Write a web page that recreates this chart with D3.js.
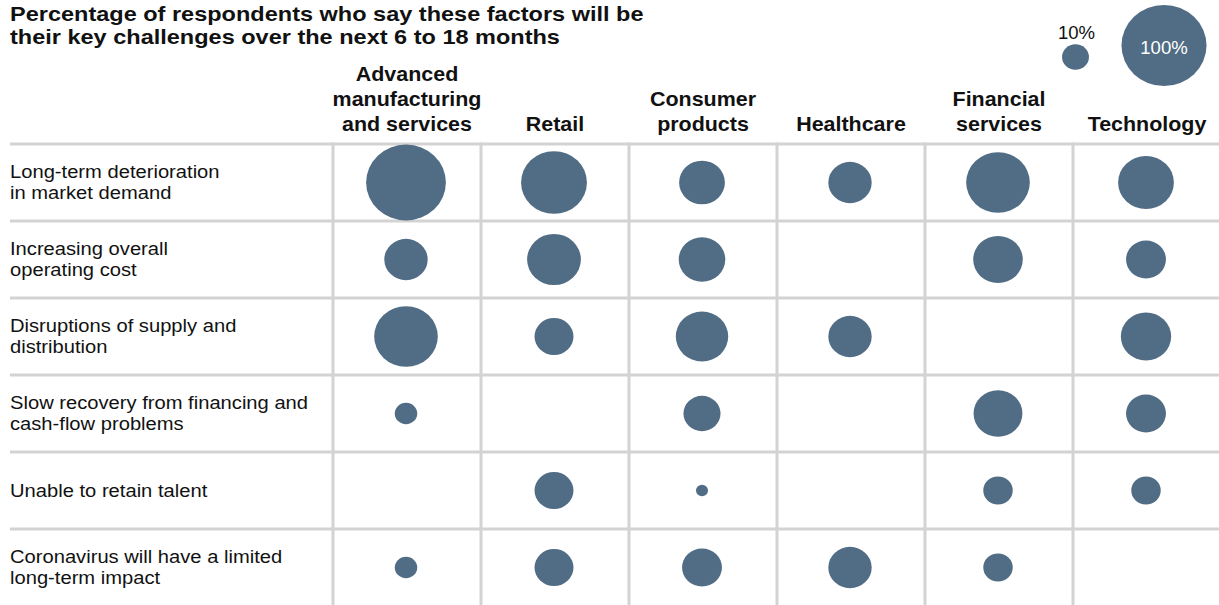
<!DOCTYPE html>
<html>
<head>
<meta charset="utf-8">
<script src="https://cdn.jsdelivr.net/npm/d3@7"></script>
<style>
  html, body { margin: 0; padding: 0; background: #ffffff; }
  svg { display: block; font-family: "Liberation Sans", Arial, Helvetica, sans-serif; }
</style>
</head>
<body>
<svg id="chart" width="1219" height="605"></svg>
<script>
// ---------- data ----------
const titleLines = [
  "Percentage of respondents who say these factors will be",
  "their key challenges over the next 6 to 18 months"
];
const industries = ["Advanced manufacturing and services", "Retail", "Consumer products", "Healthcare", "Financial services", "Technology"];
const industryLabels = [["Advanced", "manufacturing", "and services"], ["Retail"], ["Consumer", "products"], ["Healthcare"], ["Financial", "services"], ["Technology"]];
const factors = [
  "Long-term deterioration in market demand",
  "Increasing overall operating cost",
  "Disruptions of supply and distribution",
  "Slow recovery from financing and cash-flow problems",
  "Unable to retain talent",
  "Coronavirus will have a limited long-term impact"
];
const factorLabels = [
  ["Long-term deterioration", "in market demand"],
  ["Increasing overall", "operating cost"],
  ["Disruptions of supply and", "distribution"],
  ["Slow recovery from financing and", "cash-flow problems"],
  ["Unable to retain talent"],
  ["Coronavirus will have a limited", "long-term impact"]
];
// percentage of respondents per industry (order of industries); null = not shown
const longTermDemand   = [88, 60, 29, 26, 56, 43];
const operatingCost    = [26, 40, 30, null, 34, 22];
const supplyDisruption = [56, 21, 38, 26, null, 35];
const slowRecovery     = [7, null, 19, null, 33, 22];
const retainTalent     = [null, 21, 2, null, 12, 12];
const limitedImpact    = [7, 21, 22, 26, 12, null];
const seriesByFactor = [longTermDemand, operatingCost, supplyDisruption, slowRecovery, retainTalent, limitedImpact];
const legendValues = [10, 100];
const legendLabels = ["10%", "100%"];

// ---------- build table ----------
const cells = [];
factors.forEach((f, i) => {
  seriesByFactor[i].forEach((v, j) => {
    if (v !== null) cells.push({ factor: f, industry: industries[j], value: v });
  });
});

// ---------- drawing ----------
const W = 1219, H = 605;
const svg = d3.select("#chart");
const BUBBLE = "#516c85";
const GRID = "#d3d3d3";
const ASPECT = 1.05; // bubbles are slightly wider than tall

const x = d3.scaleBand().domain(industries).range([333, 1221]).padding(0);
const y = d3.scaleBand().domain(factors).range([144, 606]).padding(0);
const r = d3.scaleSqrt().domain([0, 100]).range([0, 40.5]);

function stretched(sel, tx, ty, sx) {
  return sel.attr("transform", `translate(${tx},${ty}) scale(${sx},1)`);
}

// title
const title = svg.append("g");
titleLines.forEach((t, i) => {
  stretched(title.append("text"), 10, 20.5 + i * 23, 1.12)
    .attr("font-size", 21).attr("font-weight", "bold").attr("fill", "#111")
    .text(t);
});

// grid
svg.append("g").selectAll("line.h").data(factors).join("line")
  .attr("x1", 10).attr("x2", W)
  .attr("y1", d => y(d)).attr("y2", d => y(d))
  .attr("stroke", GRID).attr("stroke-width", 3);
svg.append("g").selectAll("line.v").data(industries).join("line")
  .attr("x1", d => x(d)).attr("x2", d => x(d))
  .attr("y1", y(factors[0]) - 1.5).attr("y2", H)
  .attr("stroke", GRID).attr("stroke-width", 3);

// column headers
const hdr = svg.append("g");
industries.forEach((ind, j) => {
  const lines = industryLabels[j];
  lines.forEach((ln, k) => {
    const base = 131 - (lines.length - 1 - k) * 25;
    stretched(hdr.append("text"), x(ind) + x.bandwidth() / 2, base, 1.1)
      .attr("text-anchor", "middle").attr("font-size", 19.5).attr("font-weight", "bold").attr("fill", "#111")
      .text(ln);
  });
});

// row labels
const rl = svg.append("g");
factors.forEach((f, i) => {
  const lines = factorLabels[i];
  const cy = y(f) + y.bandwidth() / 2;
  lines.forEach((ln, k) => {
    const base = cy + 6 + (k - (lines.length - 1) / 2) * 21;
    stretched(rl.append("text"), 10, base, 1.09)
      .attr("font-size", 18.5).attr("fill", "#111")
      .text(ln);
  });
});

// bubbles
svg.append("g").selectAll("ellipse").data(cells).join("ellipse")
  .attr("cx", d => x(d.industry) + x.bandwidth() / 2 - 1)
  .attr("cy", d => y(d.factor) + y.bandwidth() / 2)
  .attr("rx", d => r(d.value) * ASPECT)
  .attr("ry", d => r(d.value))
  .attr("fill", BUBBLE);

// legend
const lg = svg.append("g");
const legendPos = [{ cx: 1075.5, cy: 57 }, { cx: 1164, cy: 45.5 }];
legendValues.forEach((v, i) => {
  lg.append("ellipse")
    .attr("cx", legendPos[i].cx).attr("cy", legendPos[i].cy)
    .attr("rx", r(v) * ASPECT).attr("ry", r(v))
    .attr("fill", BUBBLE);
});
stretched(lg.append("text"), 1076.5, 39, 1.06)
  .attr("text-anchor", "middle").attr("font-size", 17.5).attr("fill", "#111").text(legendLabels[0]);
stretched(lg.append("text"), 1164, 54, 1.06)
  .attr("text-anchor", "middle").attr("font-size", 17.5).attr("fill", "#ffffff").text(legendLabels[1]);
</script>
</body>
</html>
